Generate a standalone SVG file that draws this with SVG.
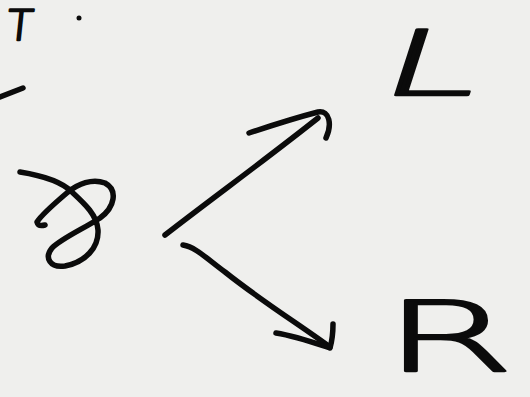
<svg xmlns="http://www.w3.org/2000/svg" width="530" height="397" viewBox="0 0 530 397">
<style>
.ink{fill:none;stroke:#0b0b0b;stroke-width:5.5;stroke-linecap:round;stroke-linejoin:round}
.txt{font-family:"DejaVu Sans","Liberation Sans",sans-serif;font-weight:200;fill:#0b0b0b;stroke:#0b0b0b;stroke-width:2.4;stroke-linejoin:round}
</style>
<rect width="530" height="397" fill="#efefed"/>
<g id="corner">
<text class="txt" x="10" y="40" font-size="42" stroke-width="3" transform="skewX(-6)">T</text>
<circle cx="79" cy="18" r="2.5" fill="#0b0b0b"/>
<path class="ink" d="M0,97 L23,88"/>
</g>
<g id="source">
<path class="ink" d="M20,172 C45,176 62,182 72,192 C85,204 97,215 98,230 C99,248 85,262 65,266 C50,268 44,258 52,248 C62,238 85,228 100,218 C115,207 118,190 105,183 C92,178 78,184 68,192 C55,203 42,214 37,222 C38,226 41,226 45,225"/>
</g>
<g id="connectors">
<path class="ink" d="M165,235 C210,200 265,160 318,118"/>
<path class="ink" d="M249,133 C270,126 295,118 318,112 C330,110 332,125 326,138"/>
<path class="ink" d="M183,245 C195,247 205,257 225,272 C260,300 300,325 330,347"/>
<path class="ink" d="M276,333 C295,336 315,343 330,348 M333,324 C333,333 332,341 330,348"/>
</g>
<g id="L">
<text class="txt" x="0" y="0" font-size="90" stroke-width="2.2" transform="translate(375,95) skewX(-18) scale(1.95,1)">L</text>
</g>
<g id="R">
<text class="txt" x="0" y="0" font-size="97" stroke-width="2.2" transform="translate(383,371) scale(1.95,1)">R</text>
</g>
</svg>
